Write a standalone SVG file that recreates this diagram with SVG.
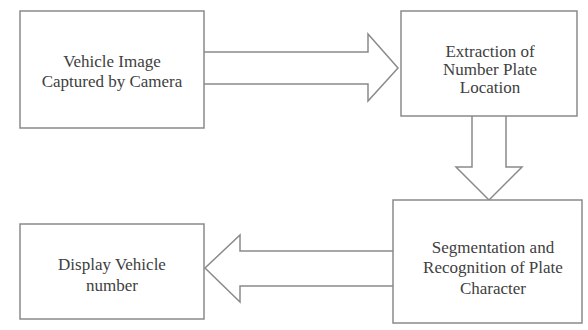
<svg xmlns="http://www.w3.org/2000/svg" width="588" height="330" viewBox="0 0 588 330">
<style>
.box{fill:#ffffff;stroke:#8a8a8a;stroke-width:1.5}
.arr{fill:#ffffff;stroke:#8a8a8a;stroke-width:1.5}
.t{font-family:serif;font-size:17px;fill:#404040;text-anchor:middle}
</style>
<rect width="588" height="330" fill="#ffffff"/>
<g id="connectors">
<path class="arr" d="M204,52 H368 V34 L398,68 L368,101 V84 H204"/>
<path class="arr" d="M472,116 V167 H456 L489,200 L522,167 H506 V116"/>
<path class="arr" d="M393,251 H240 V235 L205,268 L240,302 V286 H393"/>
</g>
<g id="n1">
<rect class="box" x="20" y="11" width="184" height="117"/>
<text class="t" x="112" y="67">Vehicle Image</text>
<text class="t" x="112" y="87">Captured by Camera</text>
</g>
<g id="n2">
<rect class="box" x="401" y="11" width="176" height="105"/>
<text class="t" x="490" y="57">Extraction of</text>
<text class="t" x="490" y="75">Number Plate</text>
<text class="t" x="490" y="93">Location</text>
</g>
<g id="n3">
<rect class="box" x="393" y="200" width="189" height="123"/>
<text class="t" x="493" y="253">Segmentation and</text>
<text class="t" x="493" y="273">Recognition of Plate</text>
<text class="t" x="493" y="294">Character</text>
</g>
<g id="n4">
<rect class="box" x="20" y="224" width="184" height="95"/>
<text class="t" x="112" y="270">Display Vehicle</text>
<text class="t" x="112" y="291">number</text>
</g>
</svg>
